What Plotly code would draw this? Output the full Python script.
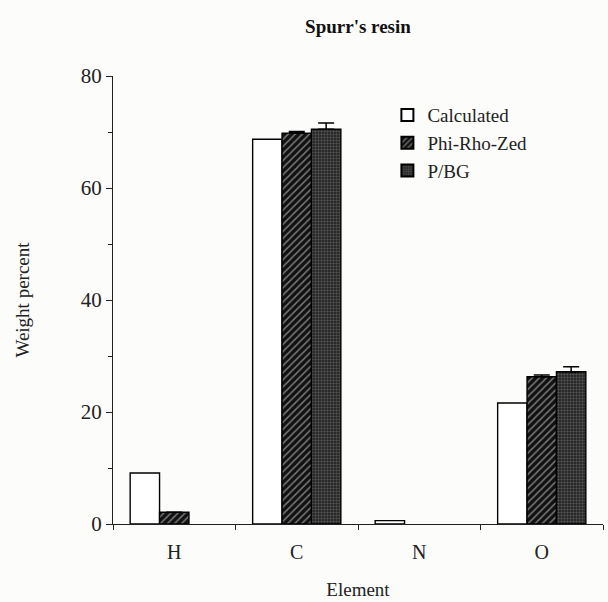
import plotly.graph_objects as go

elements = ["H", "C", "N", "O"]
calculated = [9.1, 68.7, 0.6, 21.6]
phi_rho_zed = [2.1, 69.8, None, 26.3]
pbg = [None, 70.5, None, 27.2]
phi_err = [0, 0.3, 0, 0.3]
pbg_err = [0, 1.1, 0, 0.9]

FONT = "Liberation Serif"

fig = go.Figure()
fig.add_trace(go.Bar(
    x=elements, y=calculated, name="Calculated",
    marker=dict(color="white", line=dict(color="black", width=1.4)),
))
fig.add_trace(go.Bar(
    x=elements, y=phi_rho_zed, name="Phi-Rho-Zed",
    marker=dict(color="#111111", line=dict(color="black", width=1.4),
                pattern=dict(shape="/", bgcolor="#111111", fgcolor="#e0e0e0",
                             size=5, solidity=0.3)),
    error_y=dict(type="data", symmetric=False, array=phi_err,
                 arrayminus=[0, 0, 0, 0], color="black", thickness=1.5, width=8),
))
fig.add_trace(go.Bar(
    x=elements, y=pbg, name="P/BG",
    marker=dict(color="#222222", line=dict(color="black", width=1.4),
                pattern=dict(shape=".", bgcolor="#1a1a1a", fgcolor="#8a8a8a",
                             size=3, solidity=0.5)),
    error_y=dict(type="data", symmetric=False, array=pbg_err,
                 arrayminus=[0, 0, 0, 0], color="black", thickness=1.5, width=8),
))

fig.update_layout(
    width=608, height=602,
    margin=dict(l=113, r=5, t=76, b=78),
    paper_bgcolor="#fcfcfa", plot_bgcolor="#fcfcfa",
    barmode="group", bargap=0.28, bargroupgap=0,
    font=dict(family=FONT, size=19, color="#222"),
    title=dict(text="<b>Spurr's resin</b>", x=0.5, xref="paper", xanchor="center",
               y=1 - 26 / 602, yanchor="middle",
               font=dict(family=FONT, size=19, color="#111")),
    showlegend=True,
    legend=dict(x=0.56, y=0.955, xanchor="left", yanchor="top",
                bgcolor="rgba(0,0,0,0)", font=dict(family=FONT, size=19, color="#222"),
                itemsizing="constant", tracegroupgap=0),
)
fig.update_xaxes(
    showline=True, linecolor="#222", linewidth=1.3,
    ticks="outside", tickson="boundaries", ticklen=5, tickcolor="#222",
    showgrid=False, zeroline=False, range=[-0.5, 3.5],
    ticklabelstandoff=10,
    tickfont=dict(family=FONT, size=20),
    title=dict(text="Element", standoff=20, font=dict(family=FONT, size=19)),
)
fig.update_yaxes(
    range=[0, 80], tickvals=[0, 20, 40, 60, 80],
    showline=True, linecolor="#222", linewidth=1.3,
    ticks="outside", ticklen=6, tickcolor="#222",
    minor=dict(tickvals=[10, 30, 50, 70], ticks="outside", ticklen=4, tickcolor="#222"),
    showgrid=False, zeroline=False,
    title=dict(text="Weight percent", standoff=46, font=dict(family=FONT, size=19)),
    tickfont=dict(family=FONT, size=21),
)

fig.write_html("out.html")
